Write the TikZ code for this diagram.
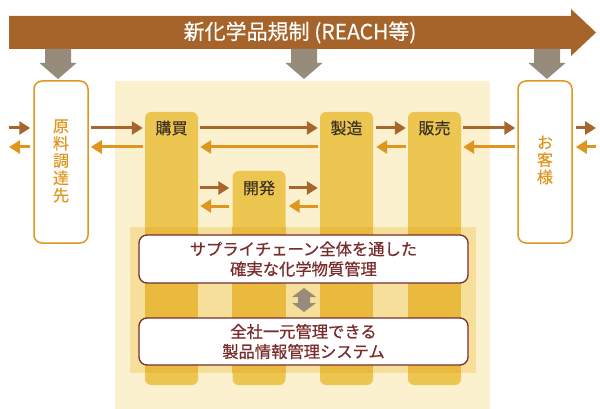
\documentclass[tikz,border=0pt]{standalone}
\usepackage{fontspec}
\newfontfamily\jp{Noto Sans CJK JP}
\newfontfamily\jpb{Noto Sans CJK JP}[FakeBold=0.6]
\newfontfamily\jpm{Noto Sans CJK JP}[FakeBold=0.3]
\usetikzlibrary{arrows.meta}
\definecolor{topbrown}{HTML}{A6642A}
\definecolor{arrbrown}{HTML}{A6662C}
\definecolor{arrorange}{HTML}{E0961E}
\definecolor{grayarr}{HTML}{978C7C}
\definecolor{bgyellow}{HTML}{FBF1CF}
\definecolor{colyellow}{HTML}{EDC651}
\definecolor{bandyellow}{HTML}{F6DF9A}
\definecolor{colband}{HTML}{E9BA3E}
\definecolor{darkred}{HTML}{7A2C2C}
\definecolor{labeldark}{HTML}{3C3020}
\tikzset{
  px/.style={x=1pt,y=-1pt},
  sidebox/.style={draw=arrorange,line width=1.5pt,fill=white,rounded corners=8pt,minimum width=54pt,minimum height=162pt,inner sep=0pt},
  colbox/.style={fill=colyellow,rounded corners=6pt,minimum width=53pt,inner sep=0pt},
  whitebox/.style={draw=darkred,line width=1.3pt,fill=white,rounded corners=8pt,minimum width=329pt,inner sep=0pt,text=darkred,font=\jpb\fontsize{16.3}{20}\selectfont,align=center},
  collabel/.style={text=labeldark,font=\jpm\fontsize{16}{18}\selectfont,inner sep=0pt},
  vlabel/.style={text=arrorange,font=\jpm\fontsize{16}{17.3}\selectfont,align=center,inner sep=0pt},
  fwd/.style={draw=arrbrown,line width=3pt,-{Triangle[length=11pt,width=13pt]}},
  bwd/.style={draw=arrorange,line width=3pt,-{Triangle[length=11pt,width=13pt]}},
}
\begin{document}
\begin{tikzpicture}[px]
\useasboundingbox (0,0) rectangle (600,409);
% top arrow
\fill[topbrown] (9,16) -- (571,16) -- (571,9) -- (596,32.5) -- (571,56) -- (571,49) -- (9,49) -- cycle;
\node[text=white,font=\jpm\fontsize{21}{23}\selectfont] (reach) at (300,32.5) {新化学品規制 (REACH等)};
% gray down arrows
\foreach \cx/\nm in {58/ga,304/gb,547/gc}{
  \fill[grayarr] (\cx-13,49) -- (\cx+13,49) -- (\cx+13,63) -- (\cx+18.5,63) -- (\cx,79) -- (\cx-18.5,63) -- (\cx-13,63) -- cycle;
}
% background
\fill[bgyellow] (115,81) rectangle (490,409);
% side boxes
\node[sidebox] (src) at (61,162) {};
\node[vlabel] at (61,161) {原\\料\\調\\達\\先};
\node[sidebox] (cust) at (545,162) {};
\node[vlabel] at (545,160) {お\\客\\様};
% columns
\node[colbox,minimum height=273pt] (buy) at (171.5,248.5) {};
\node[colbox,minimum height=214pt] (dev) at (259,278) {};
\node[colbox,minimum height=273pt] (mfg) at (346.5,248.5) {};
\node[colbox,minimum height=273pt] (sell) at (434.5,248.5) {};
% band
\fill[bandyellow] (130,227) rectangle (476,373);
\foreach \c in {buy,dev,mfg,sell}{
  \fill[colband] (\c.west |- 0,227) rectangle (\c.east |- 0,373);
}
% labels
\node[collabel] at (buy.center |- 0,128) {購買};
\node[collabel] at (mfg.center |- 0,128) {製造};
\node[collabel] at (sell.center |- 0,128) {販売};
\node[collabel] at (dev.center |- 0,188) {開発};
% white boxes
\node[whitebox,minimum height=48pt] (scm) at (303.5,259) {サプライチェーン全体を通した\\確実な化学物質管理};
\node[whitebox,minimum height=47pt] (sys) at (303.5,341.5) {全社一元管理できる\\製品情報管理システム};
% double arrow
\fill[grayarr] (304,288) -- (316,297) -- (310,297) -- (310,303) -- (316,303) -- (304,312) -- (292,303) -- (298,303) -- (298,297) -- (292,297) -- cycle;
% free ends
\coordinate (lin) at (9,128);
\coordinate (lout) at (9,147);
\coordinate (rin) at (596,128);
\coordinate (rout) at (596,147);
% connectors
\draw[fwd] (lin) -- ([xshift=-3pt]src.west |- lin);
\draw[bwd] ([xshift=-3pt]src.west |- lout) -- (lout);
\draw[fwd] ([xshift=2pt]src.east |- 0,128) -- ([xshift=-2pt]buy.west |- 0,128);
\draw[bwd] ([xshift=-2pt]buy.west |- 0,147) -- ([xshift=2pt]src.east |- 0,147);
\draw[fwd] ([xshift=2pt]buy.east |- 0,128) -- ([xshift=-2pt]mfg.west |- 0,128);
\draw[bwd] ([xshift=-2pt]mfg.west |- 0,147) -- ([xshift=2pt]buy.east |- 0,147);
\draw[fwd] ([xshift=2pt]buy.east |- 0,188) -- ([xshift=-3pt]dev.west |- 0,188);
\draw[bwd] ([xshift=-3pt]dev.west |- 0,206) -- ([xshift=2pt]buy.east |- 0,206);
\draw[fwd] ([xshift=3pt]dev.east |- 0,188) -- ([xshift=-2pt]mfg.west |- 0,188);
\draw[bwd] ([xshift=-2pt]mfg.west |- 0,206) -- ([xshift=3pt]dev.east |- 0,206);
\draw[fwd] ([xshift=3pt]mfg.east |- 0,128) -- ([xshift=-2pt]sell.west |- 0,128);
\draw[bwd] ([xshift=-2pt]sell.west |- 0,147) -- ([xshift=3pt]mfg.east |- 0,147);
\draw[fwd] ([xshift=2pt]sell.east |- 0,128) -- ([xshift=-2pt]cust.west |- 0,128);
\draw[bwd] ([xshift=-2pt]cust.west |- 0,147) -- ([xshift=2pt]sell.east |- 0,147);
\draw[fwd] ([xshift=3pt]cust.east |- rin) -- (rin);
\draw[bwd] (rout) -- ([xshift=3pt]cust.east |- rout);
\end{tikzpicture}
\end{document}
